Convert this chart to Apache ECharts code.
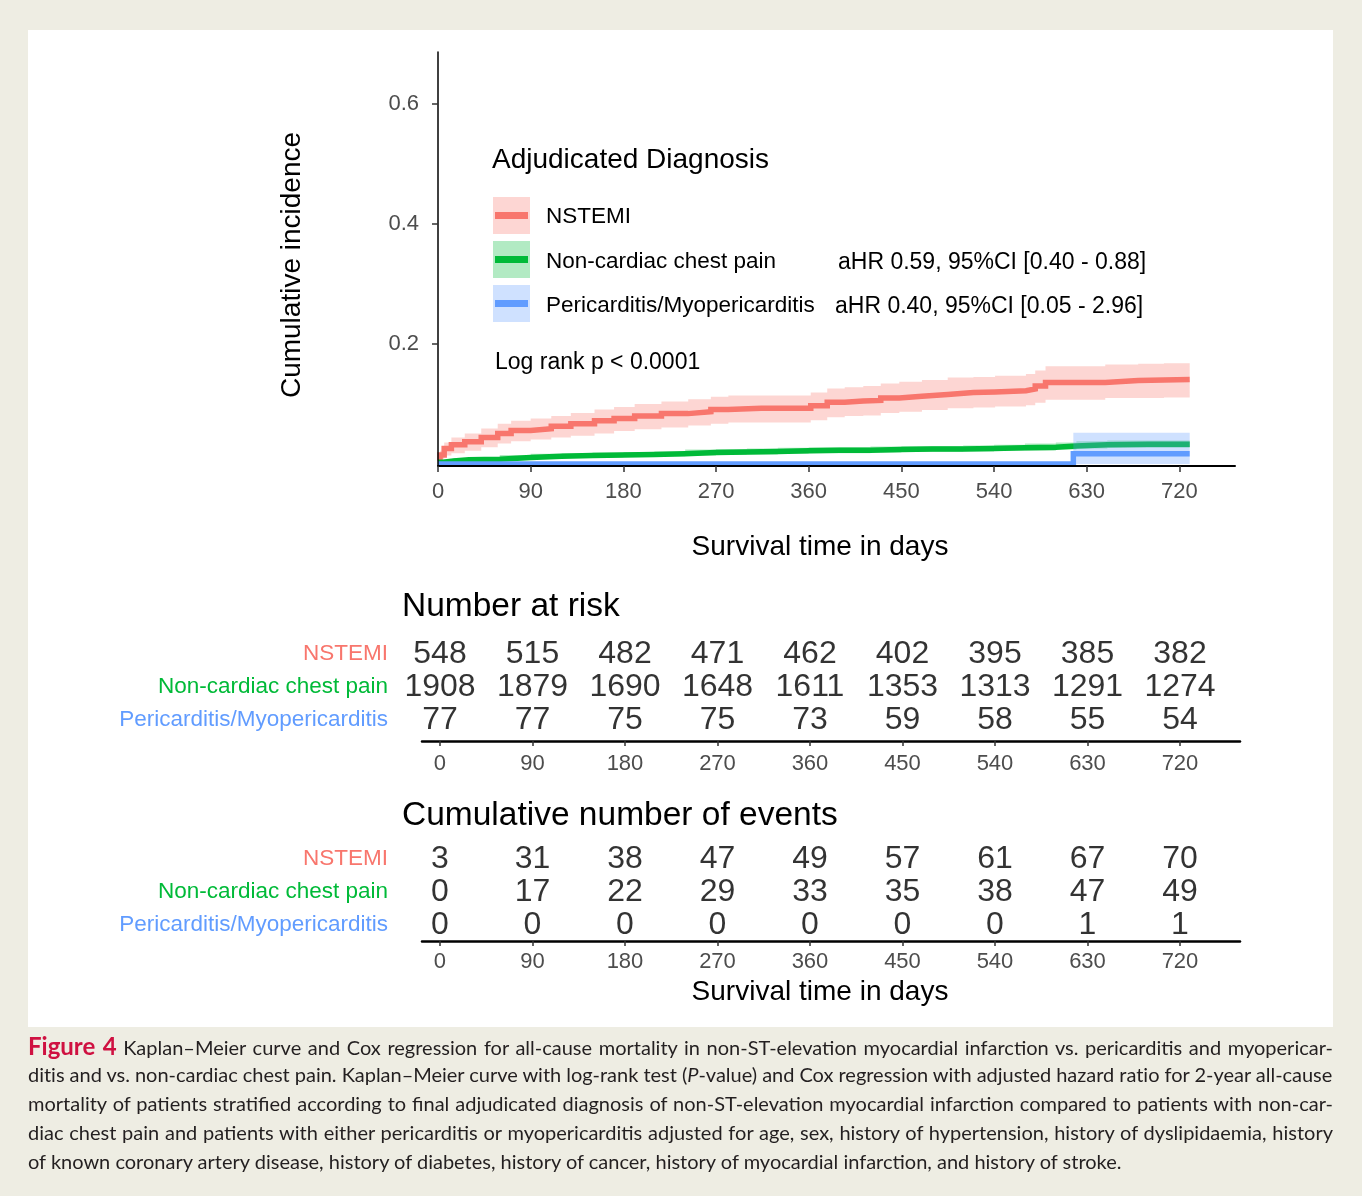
<!DOCTYPE html>
<html><head><meta charset="utf-8">
<script src="https://cdn.jsdelivr.net/npm/echarts@6/dist/echarts.min.js"></script>
<style>
html,body{margin:0;padding:0;background:#eeede3;width:1362px;height:1196px;overflow:hidden;}
#panel{position:absolute;left:28px;top:30px;width:1305px;height:997px;background:#fff;}
#chart{position:absolute;left:0;top:0;width:1362px;height:1196px;}
#caption{position:absolute;left:28px;top:1031px;width:1305px;font-family:Lato,'Open Sans',sans-serif;font-size:20px;color:#231f20;}
#caption .ln{display:block;height:29px;line-height:29px;white-space:nowrap;}
#caption .ln span.in{display:inline-block;}
.fig{color:#cf1141;font-weight:bold;font-size:24px;}
</style></head>
<body>
<div id="panel"></div>
<div id="chart"></div>
<div id="caption">
<div class="ln"><span class="in"><span class="fig">Figure 4</span> Kaplan–Meier curve and Cox regression for all-cause mortality in non-ST-elevation myocardial infarction vs. pericarditis and myopericar-</span></div>
<div class="ln"><span class="in">ditis and vs. non-cardiac chest pain. Kaplan–Meier curve with log-rank test (<i>P</i>-value) and Cox regression with adjusted hazard ratio for 2-year all-cause</span></div>
<div class="ln"><span class="in">mortality of patients stratified according to final adjudicated diagnosis of non-ST-elevation myocardial infarction compared to patients with non-car-</span></div>
<div class="ln"><span class="in">diac chest pain and patients with either pericarditis or myopericarditis adjusted for age, sex, history of hypertension, history of dyslipidaemia, history</span></div>
<div class="ln last"><span class="in">of known coronary artery disease, history of diabetes, history of cancer, history of myocardial infarction, and history of stroke.</span></div>
</div>
<script>
// ---------- data ----------
const groups = ['NSTEMI', 'Non-cardiac chest pain', 'Pericarditis/Myopericarditis'];
const xTicks = [0, 90, 180, 270, 360, 450, 540, 630, 720];
const yTicks = [0.2, 0.4, 0.6];
const tableDays = [0, 90, 180, 270, 360, 450, 540, 630, 720];

const nstemiDays  = [0, 2, 6, 13, 26, 42, 58, 71, 90, 110, 129, 152, 171, 191, 217, 243, 265, 282, 314, 346, 362, 378, 395, 413, 430, 448, 470, 495, 520, 541, 571, 580, 590, 628, 648, 680, 705, 730];
const nstemiInc   = [0.006, 0.015, 0.026, 0.032, 0.037, 0.044, 0.051, 0.056, 0.059, 0.063, 0.067, 0.072, 0.076, 0.080, 0.084, 0.087, 0.091, 0.093, 0.093, 0.093, 0.097, 0.103, 0.105, 0.106, 0.110, 0.113, 0.116, 0.119, 0.120, 0.122, 0.125, 0.130, 0.136, 0.136, 0.139, 0.140, 0.141, 0.141];
const nstemiLower = [0.003, 0.008, 0.014, 0.018, 0.022, 0.028, 0.034, 0.038, 0.041, 0.044, 0.047, 0.051, 0.055, 0.058, 0.061, 0.064, 0.067, 0.069, 0.069, 0.069, 0.073, 0.078, 0.080, 0.081, 0.085, 0.087, 0.090, 0.093, 0.094, 0.096, 0.098, 0.102, 0.107, 0.107, 0.110, 0.110, 0.111, 0.111];
const nstemiUpper = [0.010, 0.022, 0.036, 0.044, 0.051, 0.059, 0.067, 0.072, 0.076, 0.080, 0.085, 0.091, 0.095, 0.100, 0.104, 0.108, 0.112, 0.114, 0.114, 0.114, 0.119, 0.126, 0.128, 0.130, 0.134, 0.137, 0.140, 0.144, 0.145, 0.147, 0.150, 0.156, 0.163, 0.163, 0.166, 0.167, 0.168, 0.168];

const ncpDays  = [0, 5, 15, 30, 60, 90, 120, 150, 180, 210, 240, 270, 300, 330, 360, 390, 420, 450, 480, 510, 540, 570, 600, 620, 650, 690, 730];
const ncpInc   = [0.003, 0.005, 0.007, 0.008, 0.011, 0.013, 0.014, 0.015, 0.016, 0.017, 0.019, 0.020, 0.021, 0.022, 0.023, 0.023, 0.024, 0.025, 0.025, 0.026, 0.027, 0.028, 0.030, 0.032, 0.033, 0.033, 0.034];
const ncpLower = [0.001, 0.003, 0.004, 0.005, 0.007, 0.009, 0.010, 0.011, 0.012, 0.013, 0.014, 0.015, 0.016, 0.017, 0.018, 0.018, 0.019, 0.020, 0.020, 0.021, 0.022, 0.022, 0.024, 0.026, 0.027, 0.027, 0.028];
const ncpUpper = [0.005, 0.007, 0.010, 0.011, 0.015, 0.017, 0.018, 0.019, 0.020, 0.021, 0.024, 0.025, 0.026, 0.027, 0.028, 0.028, 0.029, 0.030, 0.030, 0.031, 0.032, 0.034, 0.036, 0.038, 0.039, 0.039, 0.040];

const periDays  = [0, 617, 730];
const periInc   = [0, 0.017, 0.017];
const periLower = [0, 0, 0];
const periUpper = [0, 0.052, 0.052];

const riskNstemi = [548, 515, 482, 471, 462, 402, 395, 385, 382];
const riskNcp    = [1908, 1879, 1690, 1648, 1611, 1353, 1313, 1291, 1274];
const riskPeri   = [77, 77, 75, 75, 73, 59, 58, 55, 54];
const evNstemi   = [3, 31, 38, 47, 49, 57, 61, 67, 70];
const evNcp      = [0, 17, 22, 29, 33, 35, 38, 47, 49];
const evPeri     = [0, 0, 0, 0, 0, 0, 0, 1, 1];

// ---------- styles ----------
const FONT = "'Liberation Sans', Arial, Helvetica, sans-serif";
const lineCol = ['#f8766d', '#00ba38', '#619cff'];
const bandCol = ['rgba(248,118,109,0.3)', 'rgba(0,186,56,0.3)', 'rgba(97,156,255,0.3)'];

function bandSeries(days, lower, upper, color, z) {
  return {
    type: 'custom', xAxisIndex: 0, yAxisIndex: 0, z: z, silent: true, clip: true,
    data: [[days[0], lower[0]]],
    renderItem: function (params, api) {
      const pts = [];
      const n = days.length;
      for (let i = 0; i < n; i++) {
        const nx = i < n - 1 ? days[i + 1] : days[i];
        pts.push(api.coord([days[i], upper[i]]));
        pts.push(api.coord([nx, upper[i]]));
      }
      for (let i = n - 1; i >= 0; i--) {
        const nx = i < n - 1 ? days[i + 1] : days[i];
        pts.push(api.coord([nx, lower[i]]));
        pts.push(api.coord([days[i], lower[i]]));
      }
      return { type: 'polygon', shape: { points: pts }, style: { fill: color } };
    }
  };
}
function lineSeries(days, vals, color, z) {
  return {
    type: 'line', xAxisIndex: 0, yAxisIndex: 0, step: 'end', z: z, silent: true,
    showSymbol: false, symbol: 'none',
    lineStyle: { color: color, width: 5.5, cap: 'butt', join: 'miter' },
    data: days.map((d, i) => [d, vals[i]])
  };
}
function tableSeries(counts, row, xi) {
  return {
    type: 'scatter', xAxisIndex: xi, yAxisIndex: xi, silent: true, symbolSize: 1,
    itemStyle: { color: 'rgba(0,0,0,0)' },
    label: { show: true, position: 'inside', formatter: p => String(p.value[2]),
      fontSize: 32, color: '#000', fontFamily: FONT },
    data: counts.map((c, i) => [tableDays[i], row, c])
  };
}
function txt(text, x, y, size, opts) {
  opts = opts || {};
  return {
    type: 'text', x: x, y: y, rotation: opts.rotation || 0, z: 100,
    style: {
      text: text, fill: opts.color || '#000', fontSize: size, fontFamily: FONT,
      align: opts.align || 'left', textAlign: opts.align || 'left',
      verticalAlign: 'middle', textVerticalAlign: 'middle'
    }
  };
}
function key(y, i) {
  return [
    { type: 'rect', shape: { x: 493, y: y, width: 37, height: 37 }, style: { fill: bandCol[i] }, z: 100 },
    { type: 'rect', shape: { x: 495, y: y + 18.5 - 3.5, width: 33, height: 7 }, style: { fill: lineCol[i] }, z: 101 }
  ];
}

const tableXAxis = (gi, margin) => ({
  type: 'value', gridIndex: gi, min: -17.5, max: 778.4,
  axisLine: { onZero: false, lineStyle: { color: '#000', width: 2.5 } },
  axisTick: { show: true, customValues: tableDays, length: 5, lineStyle: { color: '#333', width: 1.5 } },
  axisLabel: { customValues: tableDays, color: '#4d4d4d', fontSize: 22, fontFamily: FONT, margin: margin },
  splitLine: { show: false }
});
const tableYAxis = (gi, min) => ({
  type: 'value', gridIndex: gi, min: min, max: 2.6,
  axisLine: { show: false }, axisTick: { show: false }, splitLine: { show: false },
  axisLabel: { customValues: [0, 1, 2], formatter: v => groups[2 - Math.round(Number(v))],
    color: v => lineCol[2 - Math.round(Number(v))], fontSize: 22.5, fontFamily: FONT, margin: 34 }
});

const option = {
  backgroundColor: 'transparent',
  animation: false,
  grid: [
    { left: 438, top: 52, width: 797, height: 414 },
    { left: 422, top: 741 - 3.24 * 33, width: 818, height: 3.24 * 33 },
    { left: 422, top: 941 - 3.09 * 33, width: 818, height: 3.09 * 33 }
  ],
  xAxis: [
    { type: 'value', gridIndex: 0, min: 0, max: 774,
      axisLine: { onZero: false, lineStyle: { color: '#000', width: 2 } },
      axisTick: { show: true, customValues: xTicks, length: 6, lineStyle: { color: '#333', width: 1.5 } },
      axisLabel: { customValues: xTicks, color: '#4d4d4d', fontSize: 22, fontFamily: FONT, margin: 15 },
      splitLine: { show: false }, z: 10 },
    tableXAxis(1, 12),
    tableXAxis(2, 10)
  ],
  yAxis: [
    { type: 'value', gridIndex: 0, min: -0.0033, max: 0.6867,
      axisLine: { show: true, onZero: false, lineStyle: { color: '#000', width: 1.5 } },
      axisTick: { show: true, customValues: yTicks, length: 6, lineStyle: { color: '#333', width: 1.5 } },
      axisLabel: { customValues: yTicks, formatter: v => Number(v).toFixed(1), color: '#4d4d4d', fontSize: 22, fontFamily: FONT, margin: 19 },
      splitLine: { show: false }, z: 10 },
    tableYAxis(1, -0.64),
    tableYAxis(2, -0.49)
  ],
  series: [
    bandSeries(nstemiDays, nstemiLower, nstemiUpper, bandCol[0], 1),
    lineSeries(nstemiDays, nstemiInc, lineCol[0], 2),
    bandSeries(ncpDays, ncpLower, ncpUpper, bandCol[1], 3),
    lineSeries(ncpDays, ncpInc, lineCol[1], 4),
    bandSeries(periDays, periLower, periUpper, bandCol[2], 5),
    lineSeries(periDays, periInc, lineCol[2], 6),
    tableSeries(riskNstemi, 2, 1), tableSeries(riskNcp, 1, 1), tableSeries(riskPeri, 0, 1),
    tableSeries(evNstemi, 2, 2), tableSeries(evNcp, 1, 2), tableSeries(evPeri, 0, 2)
  ],
  graphic: [].concat(
    [
      txt('Cumulative incidence', 292, 265, 28, { rotation: Math.PI / 2, align: 'center' }),
      txt('Survival time in days', 820, 547, 28, { align: 'center' }),
      txt('Adjudicated Diagnosis', 492, 160, 28),
      txt(groups[0], 546, 217, 22.5),
      txt(groups[1], 546, 262, 22.5),
      txt(groups[2], 546, 306, 22.5),
      txt('aHR 0.59, 95%CI [0.40 - 0.88]', 838, 263, 23),
      txt('aHR 0.40, 95%CI [0.05 - 2.96]', 835, 307, 23),
      txt('Log rank p < 0.0001', 495, 363, 23),
      txt('Number at risk', 402, 607, 33.5),
      txt('Cumulative number of events', 402, 816, 33.5),
      txt('Survival time in days', 820, 992, 28, { align: 'center' })
    ],
    key(197, 0), key(241, 1), key(285, 2)
  )
};
const chart = echarts.init(document.getElementById('chart'), null, { renderer: 'canvas' });
chart.setOption(option);

// justify caption lines
(function () {
  const target = 1305;
  const lines = document.querySelectorAll('#caption .ln');
  lines.forEach((ln, idx) => {
    const sp = ln.querySelector('span.in');
    const w = sp.getBoundingClientRect().width;
    const text = sp.textContent;
    const spaces = (text.match(/ /g) || []).length;
    if (w > target) {
      sp.style.letterSpacing = ((target - w) / text.length) + 'px';
    } else if (idx < lines.length - 1 && spaces > 0) {
      sp.style.wordSpacing = ((target - w) / spaces) + 'px';
    }
  });
})();
</script>
</body></html>
